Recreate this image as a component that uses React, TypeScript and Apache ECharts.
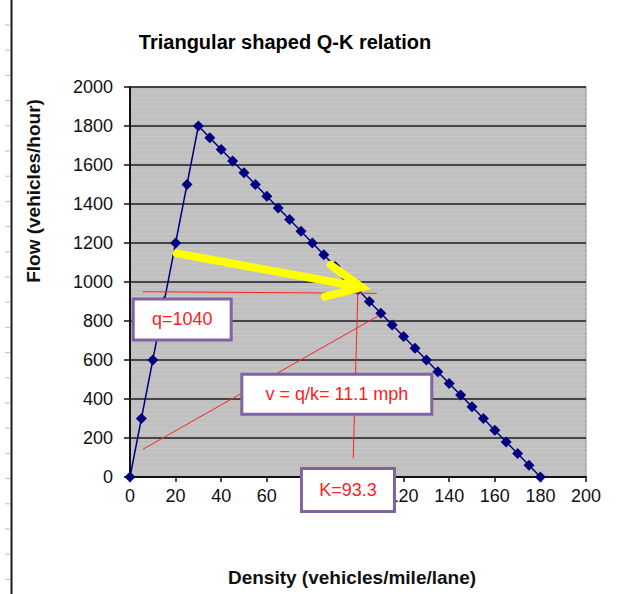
import React, { useEffect, useRef } from "react";
import * as echarts from "echarts";

// ---- data ----
const density = [0, 5, 10, 15, 20, 25, 30, 35, 40, 45, 50, 55, 60, 65, 70, 75, 80, 85, 90, 95, 100, 105, 110, 115, 120, 125, 130, 135, 140, 145, 150, 155, 160, 165, 170, 175, 180];
const flow = [0, 300, 600, 900, 1200, 1500, 1800, 1740, 1680, 1620, 1560, 1500, 1440, 1380, 1320, 1260, 1200, 1140, 1080, 1020, 960, 900, 840, 780, 720, 660, 600, 540, 480, 420, 360, 300, 240, 180, 120, 60, 0];

const titleText = "Triangular shaped Q-K relation";
const xName = "Density (vehicles/mile/lane)";
const yName = "Flow (vehicles/hour)";
// x tick values hidden behind the K box in the reference
const hiddenXTicks = [80, 100];

// annotation anchors in data units [density, flow]
const arrowTail = [20.5, 1147];
const arrowTip = [101.6, 973];
const arrowWingA = [88, 1087];
const arrowWingB = [85.5, 925];
const redHoriz = [[5.6, 950], [108.2, 942]];
const redVert = [[100.1, 1014], [97.9, 96]];
const redDiag = [[5.6, 142], [108.9, 826]];
const boxLabels = ["q=1040", "v = q/k= 11.1 mph", "K=93.3"];
const boxCenters = [[22.9, 808], [90.7, 425], [95.6, -67]];
const boxSizes = [[98, 41], [190, 40], [93, 43]];

const FONT = "'Liberation Sans', Arial, sans-serif";

export default function App() {
  const ref = useRef<HTMLDivElement>(null);
  useEffect(() => {
    const chart = echarts.init(ref.current!, null, { renderer: "svg" });
    const points = density.map((k, i) => [k, flow[i]]);
    chart.setOption({
      animation: false,
      backgroundColor: "#ffffff",
      title: {
        text: titleText,
        left: 280,
        top: 27,
        textAlign: "center",
        textStyle: { fontSize: 20, fontWeight: "bold", fontFamily: FONT, color: "#000" },
      },
      grid: {
        left: 130,
        top: 87,
        right: 51,
        bottom: 117,
        show: true,
        backgroundColor: "#c0c0c0",
        borderColor: "#8a8a8a",
        borderWidth: 1,
      },
      xAxis: {
        type: "value",
        min: 0,
        max: 200,
        interval: 20,
        axisLine: { show: true, lineStyle: { color: "#111", width: 2 } },
        axisTick: { show: true, length: 5, lineStyle: { color: "#111", width: 1.5 } },
        axisLabel: {
          fontSize: 18,
          fontFamily: FONT,
          color: "#111",
          margin: 10,
          formatter: (v: number) => (hiddenXTicks.includes(v) ? "" : String(v)),
        },
        splitLine: { show: false },
      },
      yAxis: {
        type: "value",
        min: 0,
        max: 2000,
        interval: 200,
        axisLine: { show: true, lineStyle: { color: "#111", width: 2 } },
        axisTick: { show: true, length: 6, lineStyle: { color: "#111", width: 1.5 } },
        axisLabel: {
          fontSize: 18,
          fontFamily: FONT,
          color: "#111",
          margin: 17,
          formatter: (v: number) => String(v),
        },
        splitLine: { show: true, lineStyle: { color: "#1e1e1e", width: 1.5 } },
        minorTick: { show: false, splitNumber: 8 },
        minorSplitLine: { show: true, lineStyle: { color: "#c8c8c8", width: 1 } },
      },
      series: [
        {
          type: "line",
          data: points,
          symbol: "diamond",
          symbolSize: 11,
          lineStyle: { color: "#000080", width: 1.5 },
          itemStyle: { color: "#000080" },
          z: 3,
        },
      ],
    });

    const px = (p: number[]) => chart.convertToPixel({ gridIndex: 0 }, p) as number[];
    const graphic: any[] = [];

    // left page ruler decoration
    graphic.push({
      type: "line",
      shape: { x1: 11.5, y1: 0, x2: 11.5, y2: 594 },
      style: { stroke: "#1a1a1a", lineWidth: 2 },
      z: 1,
    });
    for (let i = 0; i < 23; i++) {
      const y = 25 + i * 25.2;
      graphic.push({
        type: "line",
        shape: { x1: 5, y1: y, x2: 10, y2: y },
        style: { stroke: "#b8c2d2", lineWidth: 1 },
        z: 1,
      });
    }

    // axis titles
    graphic.push({
      type: "text",
      x: 33,
      y: 191,
      rotation: Math.PI / 2,
      style: { text: yName, font: `bold 19px ${FONT}`, fill: "#111", align: "center", verticalAlign: "middle" },
      z: 10,
    });
    graphic.push({
      type: "text",
      x: 352,
      y: 577,
      style: { text: xName, font: `bold 19px ${FONT}`, fill: "#111", align: "center", verticalAlign: "middle" },
      z: 10,
    });

    // red guide lines
    [redHoriz, redVert, redDiag].forEach((seg) => {
      const a = px(seg[0]);
      const b = px(seg[1]);
      graphic.push({
        type: "line",
        shape: { x1: a[0], y1: a[1], x2: b[0], y2: b[1] },
        style: { stroke: "#ff2020", lineWidth: 1 },
        z: 50,
      });
    });

    // yellow arrow
    const t = px(arrowTail);
    const tip = px(arrowTip);
    const wa = px(arrowWingA);
    const wb = px(arrowWingB);
    graphic.push({
      type: "polyline",
      shape: { points: [t, tip] },
      style: { stroke: "#ffff00", lineWidth: 8, lineCap: "round", fill: null },
      z: 55,
    });
    graphic.push({
      type: "polyline",
      shape: { points: [wa, tip, wb] },
      style: { stroke: "#ffff00", lineWidth: 8, lineCap: "round", lineJoin: "miter", fill: null },
      z: 55,
    });

    // annotation boxes
    boxLabels.forEach((label, i) => {
      const c = px(boxCenters[i]);
      const [w, h] = boxSizes[i];
      graphic.push({
        type: "rect",
        shape: { x: c[0] - w / 2, y: c[1] - h / 2, width: w, height: h },
        style: { fill: "#ffffff", stroke: "#8064a2", lineWidth: 3 },
        z: 60,
      });
      graphic.push({
        type: "text",
        x: c[0],
        y: c[1],
        style: { text: label, font: `18px ${FONT}`, fill: "#ff2020", align: "center", verticalAlign: "middle" },
        z: 61,
      });
    });

    chart.setOption({ graphic });
    return () => chart.dispose();
  }, []);
  return (
    <div
      ref={ref}
      style={{ position: "absolute", left: 0, top: 0, width: 637, height: 594, background: "#fff" }}
    />
  );
}
